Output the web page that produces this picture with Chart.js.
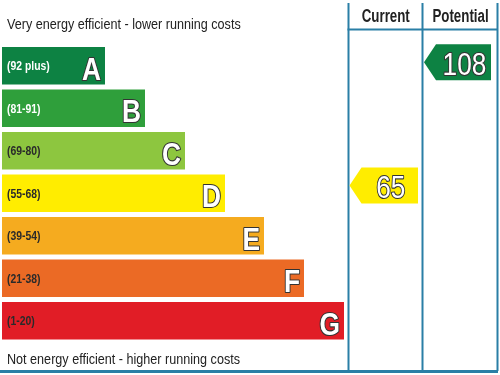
<!DOCTYPE html>
<html>
<head>
<meta charset="utf-8">
<script src="https://cdn.jsdelivr.net/npm/chart.js@4/dist/chart.umd.min.js"></script>
<style>
html,body{margin:0;padding:0;background:#fff;}
#wrap{width:500px;height:375px;position:relative;}
</style>
</head>
<body>
<div id="wrap"><canvas id="c" width="500" height="375"></canvas></div>
<script>
// ---- data ----
const categories = ['A', 'B', 'C', 'D', 'E', 'F', 'G'];
const bandRanges = ['(92 plus)', '(81-91)', '(69-80)', '(55-68)', '(39-54)', '(21-38)', '(1-20)'];
const bandMinimums = [92, 81, 69, 55, 39, 21, 1];
const bandLengths = [103, 143, 183, 223, 262, 302, 342];
const columnHeaders = ['Current', 'Potential'];
const ratings = [65, 108];
const topCaption = 'Very energy efficient - lower running costs';
const bottomCaption = 'Not energy efficient - higher running costs';

// ---- styles ----
const bandColors = ['#0d8243', '#2f9f3b', '#8dc63f', '#ffed00', '#f5ab1f', '#eb6a25', '#e11d26'];
const labelColors = ['#ffffff', '#ffffff', '#2a2a2a', '#2a2a2a', '#2a2a2a', '#2a2a2a', '#2a2a2a'];
const lineColor = '#2a7fa6';
const FONT = '"Liberation Sans", Arial, sans-serif';

// column boundaries in x-axis units
const columnEdges = [345.5, 420, 495];

function bandIndex(r) {
  for (let i = 0; i < bandMinimums.length; i++) if (r >= bandMinimums[i]) return i;
  return bandMinimums.length - 1;
}

function txt(ctx, s, x, y, font, align, sx, fill, stroke, lw, baseline) {
  ctx.save();
  ctx.font = font;
  ctx.translate(x, y);
  ctx.scale(sx, 1);
  ctx.textAlign = align;
  ctx.textBaseline = baseline || 'alphabetic';
  if (stroke) {
    ctx.lineWidth = lw;
    ctx.strokeStyle = stroke;
    ctx.lineJoin = 'round';
    ctx.strokeText(s, 0, 0);
  }
  ctx.fillStyle = fill;
  ctx.fillText(s, 0, 0);
  ctx.restore();
}

const epcPlugin = {
  id: 'epc',
  afterDatasetsDraw(chart) {
    const ctx = chart.ctx;
    const xs = chart.scales.x;
    const rs = chart.scales.rating;
    const meta = chart.getDatasetMeta(0);

    // band letters and range labels
    meta.data.forEach((bar, i) => {
      const cy = bar.y;
      txt(ctx, bandRanges[i], xs.getPixelForValue(0) + 5, cy + 1, 'bold 13px ' + FONT, 'left', 0.8, labelColors[i], null, 0, 'middle');
      txt(ctx, categories[i], bar.x - 4, cy + 14, 'bold 31px ' + FONT, 'right', 0.85, '#ffffff', '#333333', 2.2);
    });

    // column lines
    ctx.save();
    ctx.strokeStyle = lineColor;
    ctx.lineWidth = 2;
    const top = 3, bottom = 371;
    columnEdges.forEach(v => {
      const px = Math.round(xs.getPixelForValue(v)) + 0.5;
      ctx.beginPath(); ctx.moveTo(px, top); ctx.lineTo(px, bottom); ctx.stroke();
    });
    const l0 = xs.getPixelForValue(columnEdges[0]);
    const l2 = xs.getPixelForValue(columnEdges[2]);
    ctx.beginPath(); ctx.moveTo(l0, 29.5); ctx.lineTo(l2 + 1, 29.5); ctx.stroke();
    ctx.lineWidth = 3;
    ctx.beginPath(); ctx.moveTo(0, 371.5); ctx.lineTo(l2 + 1, 371.5); ctx.stroke();
    ctx.restore();

    // headers
    for (let c = 0; c < 2; c++) {
      const cx = (xs.getPixelForValue(columnEdges[c]) + xs.getPixelForValue(columnEdges[c + 1])) / 2;
      txt(ctx, columnHeaders[c], cx + 1, 22, 'bold 18px ' + FONT, 'center', 0.74, '#222222');
    }

    // arrows
    for (let c = 0; c < 2; c++) {
      const r = ratings[c];
      const colL = xs.getPixelForValue(columnEdges[c]);
      const colR = xs.getPixelForValue(columnEdges[c + 1]);
      const left = colL + 2;
      const right = colR - 4 - (c === 1 ? 2 : 0);
      const cy = rs.getPixelForValue(r);
      const h = 36, tip = 12;
      ctx.save();
      ctx.fillStyle = bandColors[bandIndex(r)];
      ctx.beginPath();
      ctx.moveTo(left, cy);
      ctx.lineTo(left + tip, cy - h / 2);
      ctx.lineTo(right, cy - h / 2);
      ctx.lineTo(right, cy + h / 2);
      ctx.lineTo(left + tip, cy + h / 2);
      ctx.closePath();
      ctx.fill();
      ctx.restore();
      const tx = (left + tip + right) / 2 + 1;
      txt(ctx, String(r), tx, cy + 13, '32px ' + FONT, 'center', 0.82, '#ffffff', '#333333', 2.2);
    }

    // captions
    txt(ctx, topCaption, 7, 29, '14px ' + FONT, 'left', 0.9, '#222222');
    txt(ctx, bottomCaption, 7, 364, '14px ' + FONT, 'left', 0.9, '#222222');
  }
};

new Chart(document.getElementById('c'), {
  type: 'bar',
  data: {
    labels: categories,
    datasets: [{
      data: bandLengths,
      backgroundColor: bandColors,
      borderWidth: 0,
      categoryPercentage: 1,
      barPercentage: 0.882
    }]
  },
  options: {
    indexAxis: 'y',
    responsive: false,
    animation: false,
    events: [],
    layout: { padding: { left: 2, right: 3, top: 44.5, bottom: 33 } },
    plugins: { legend: { display: false }, tooltip: { enabled: false } },
    scales: {
      x: { type: 'linear', min: 0, max: 495, display: false },
      y: { type: 'category', display: false },
      rating: { type: 'linear', axis: 'y', position: 'right', min: 15.05, max: 109.52, display: false }
    }
  },
  plugins: [epcPlugin]
});
</script>
</body>
</html>
